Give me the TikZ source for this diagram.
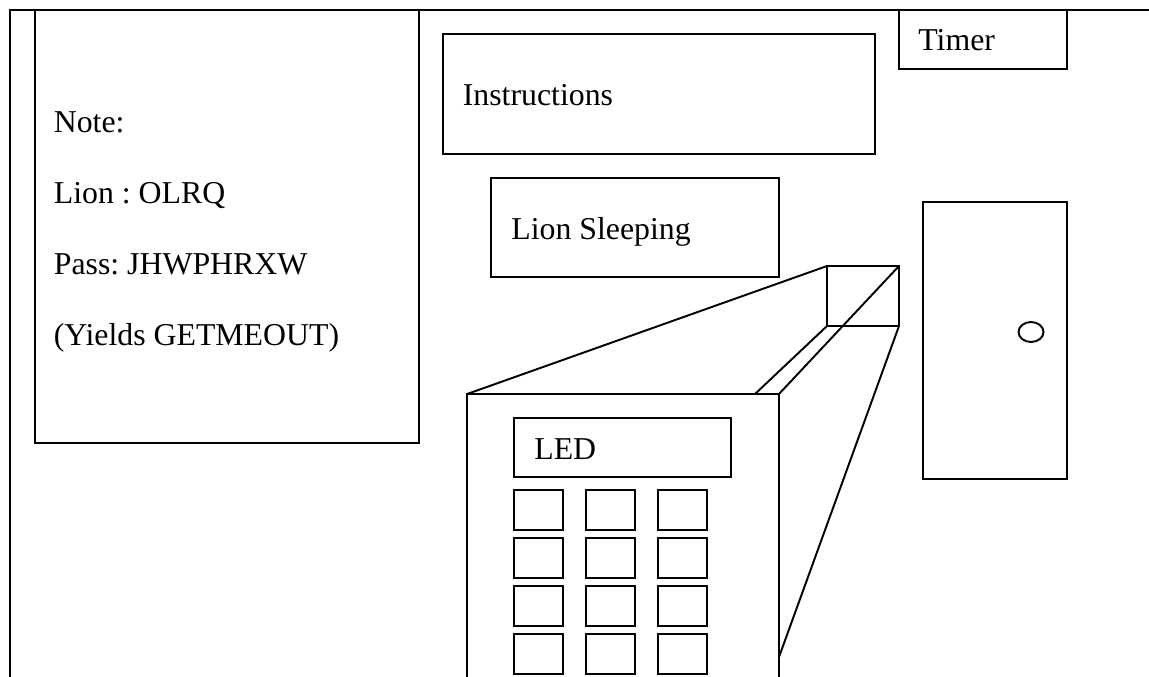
\documentclass[tikz,border=0pt]{standalone}
\usepackage{fontspec}
\setmainfont{Liberation Serif}
\usetikzlibrary{shapes.geometric,positioning}
\tikzset{
    % Base box style
    basebox/.style={
        draw=black,
        fill=white,
        line width=1.1pt,
        inner sep=0pt,
        outer sep=0pt,
        rectangle
    },
    % Label standing on its baseline
    labeltext/.style={
        anchor=base west,
        inner sep=0pt,
        font=\frenchspacing\fontsize{18.1}{20}\selectfont
    },
    % Keypad button
    keybox/.style={
        basebox,
        minimum width=0.98cm,
        minimum height=0.8cm
    },
    % Line of the keypad casing
    myline/.style={
        line width=1.1pt,
        draw=black
    }
}
\begin{document}
\begin{tikzpicture}[x=0.02cm, y=-0.02cm]
        \useasboundingbox (0,0) rectangle (1149,676);
        \clip (0,0) rectangle (1149,676);

        % Room outline, runs past the page
        \node[basebox, minimum width=24cm, minimum height=14.4cm] (room) at (610,370) {};

        % Wall boxes
        \node[basebox, minimum width=7.68cm, minimum height=8.66cm] (note) at (227,226.5) {};
        \node[basebox, minimum width=8.64cm, minimum height=2.4cm] (instructions) at (659,94) {};
        \node[basebox, minimum width=3.36cm, minimum height=1.18cm] (timer) at (983,39.5) {};
        \node[basebox, minimum width=5.76cm, minimum height=1.98cm] (sleeping) at (635,227.5) {};

        % Labels
        \node[labeltext] (noteline1) at (53.5,132) {Note:};
        \node[labeltext] (noteline2) at (53.5,203) {Lion : OLRQ};
        \node[labeltext] (noteline3) at (53.5,274) {Pass: JHWPHRXW};
        \node[labeltext] (noteline4) at (53.5,345) {(Yields GETMEOUT)};
        \node[labeltext] (instructionstext) at (462.5,105) {Instructions};
        \node[labeltext] (timertext) at (918,51) {Timer};
        \node[labeltext] (sleepingtext) at (511,239) {Lion Sleeping};

        % Door
        \node[basebox, minimum width=2.88cm, minimum height=5.54cm] (door) at (995,340.5) {};
        \node[draw=black, line width=1.1pt, ellipse, inner sep=0pt, minimum width=0.5cm, minimum height=0.4cm] (knob) at (1031,332) {};

        % Keypad casing, runs past the page
        \node[basebox, minimum width=1.44cm, minimum height=1.2cm] (back) at (863,296) {};
        \node[basebox, minimum width=6.24cm, minimum height=6.6cm] (front) at (623,559) {};
        \coordinate (edgetop) at (755,394);
        \coordinate (edgefoot) at (779,657);

        \draw[myline] (front.north west) -- (back.north west);
        \draw[myline] (front.north east) -- (back.north east);
        \draw[myline] (edgetop) -- (back.south west);
        \draw[myline] (back.south east) -- (edgefoot);

        % Keypad
        \node[basebox, minimum width=4.34cm, minimum height=1.18cm] (led) at (622.5,447.5) {};
        \node[labeltext] (ledtext) at (534,459) {LED};
        \foreach \row/\ypos in {1/510,2/558,3/606,4/654} {
            \foreach \col/\xpos in {1/538.5,2/610.5,3/682.5} {
                \node[keybox] (key\row\col) at (\xpos,\ypos) {};
            }
        }
    \end{tikzpicture}
\end{document}
